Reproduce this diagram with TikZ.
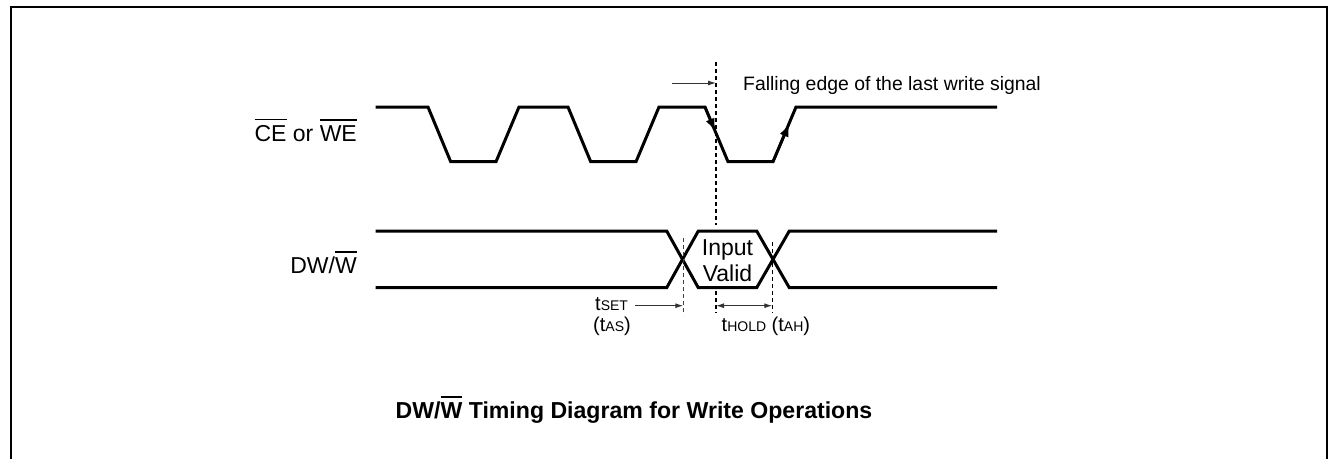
\documentclass[tikz,border=0pt]{standalone}
\usepackage{fontspec}
\setmainfont{Liberation Sans}
\usetikzlibrary{arrows.meta}
\newcommand\ovl[1]{\leavevmode\vbox{\hrule height 0.07em\kern 0.2em\hbox{#1}}}
\newcommand\ovlb[1]{\leavevmode\vbox{\hrule height 0.1em\kern 0.16em\hbox{#1}}}
\newcommand\subsz[1]{{\fontsize{14}{14}\selectfont #1}}
\tikzset{
  wave/.style={line width=3pt, line join=miter},
  guide/.style={line width=1.1pt, dash pattern=on 4pt off 3pt},
  dim/.style={line width=1pt, draw=black!80},
  tip/.style={-{Latex[length=8pt,width=5pt]}},
  edgetip/.style={-{Latex[length=13pt,width=9.5pt]}},
  lbl/.style={inner sep=0pt, font=\fontsize{23}{26}\selectfont},
  note/.style={inner sep=0pt, font=\fontsize{19.4}{22}\selectfont},
  tlbl/.style={inner sep=0pt, font=\fontsize{20}{22}\selectfont, align=left},
  ttl/.style={inner sep=0pt, font=\fontsize{23.1}{26}\selectfont\bfseries}
}
\begin{document}
\begin{tikzpicture}[x=1pt,y=-1pt]
\useasboundingbox (0,0) rectangle (1328,459);
% frame
\draw[line width=2pt] (11,459) -- (11,7) -- (1326.5,7) -- (1326.5,459);

% CE / WE waveform
\coordinate (c0) at (375.7,107);
\coordinate (f1a) at (428,107);   \coordinate (f1b) at (450.7,161.7);
\coordinate (r1a) at (496,161.7); \coordinate (r1b) at (519,107);
\coordinate (f2a) at (568,107);   \coordinate (f2b) at (590.7,161.7);
\coordinate (r2a) at (636,161.7); \coordinate (r2b) at (659,107);
\coordinate (f3a) at (705,107);   \coordinate (f3b) at (728,161.7);
\coordinate (r3a) at (773,161.7); \coordinate (r3b) at (796,107);
\coordinate (cend) at (997,107);
\draw[wave] (c0) -- (f1a) -- (f1b) -- (r1a) -- (r1b) -- (f2a) -- (f2b) -- (r2a) -- (r2b)
  -- (f3a) -- (f3b) -- (r3a) -- (r3b) -- (cend);
% arrowheads on the last edges
\coordinate (ftip) at (715.3,131.5);
\coordinate (rtip) at (789.3,123.6);
\draw[line width=2.5pt, edgetip] (f3a) -- (ftip);
\draw[line width=2.5pt, edgetip] (r3a) -- (rtip);

% DW/W waveform
\coordinate (dh0) at (375.7,231);   \coordinate (dl0) at (375.7,287.7);
\coordinate (x1a) at (666.7,231);   \coordinate (x1b) at (666.7,287.7);
\coordinate (x1c) at (698.3,287.7); \coordinate (x1d) at (698.3,231);
\coordinate (x2a) at (756.7,287.7); \coordinate (x2b) at (756.7,231);
\coordinate (x2c) at (789.3,231);   \coordinate (x2d) at (789.3,287.7);
\coordinate (dh1) at (997,231);     \coordinate (dl1) at (997,287.7);
\draw[wave] (dh0) -- (x1a) -- (x1c) -- (x2a) -- (x2c) -- (dh1);
\draw[wave] (dl0) -- (x1b) -- (x1d) -- (x2b) -- (x2d) -- (dl1);

% guide lines
\coordinate (gct) at (716,62);    \coordinate (gcm1) at (716,225);
\coordinate (gcm2) at (716,291);  \coordinate (gcb) at (716,313);
\coordinate (g1t) at (683.3,238); \coordinate (g1b) at (683.3,315);
\coordinate (g2t) at (772.3,242); \coordinate (g2b) at (772.3,313);
\draw[guide] (gct) -- (gcm1);
\draw[guide] (gcm2) -- (gcb);
\draw[guide, draw=black!75] (g1t) -- (g1b);
\draw[guide] (g2t) -- (g2b);

% top arrow and note
\coordinate (fa0) at (672,83);
\coordinate (fa1) at (716,83);
\draw[dim, tip] (fa0) -- (fa1);
\node[note, anchor=base west] (falling) at (743,90) {Falling edge of the last write signal};

% signal labels
\node[lbl, anchor=base east] (celbl) at (357,141) {\ovl{CE} or \ovl{WE}};
\node[lbl, anchor=base east] (dwlbl) at (357,273.3) {DW/\ovl{W}};

% input valid
\node[lbl, anchor=base] (inp) at (727.5,255) {Input};
\node[lbl, anchor=base] (val) at (727.5,281.7) {Valid};

% timing labels
\node[tlbl, anchor=base west] (tset) at (595,310) {t\subsz{SET}};
\node[tlbl, anchor=base west] (tas) at (593,331.7) {(t\subsz{AS})};
\coordinate (ts0) at (635,305.7);
\coordinate (ts1) at (683.3,305.7);
\draw[dim, tip] (ts0) -- (ts1);
\coordinate (th0) at (716,305.7);
\coordinate (th1) at (772.3,305.7);
\draw[dim, {Latex[length=8pt,width=5pt]}-{Latex[length=8pt,width=5pt]}] (th0) -- (th1);
\node[tlbl, anchor=base west] (thold) at (721.5,331.7) {t\subsz{HOLD} (t\subsz{AH})};

% title
\node[ttl, anchor=base] (title) at (634,418) {DW/\ovlb{W} Timing Diagram for Write Operations};
\end{tikzpicture}
\end{document}
